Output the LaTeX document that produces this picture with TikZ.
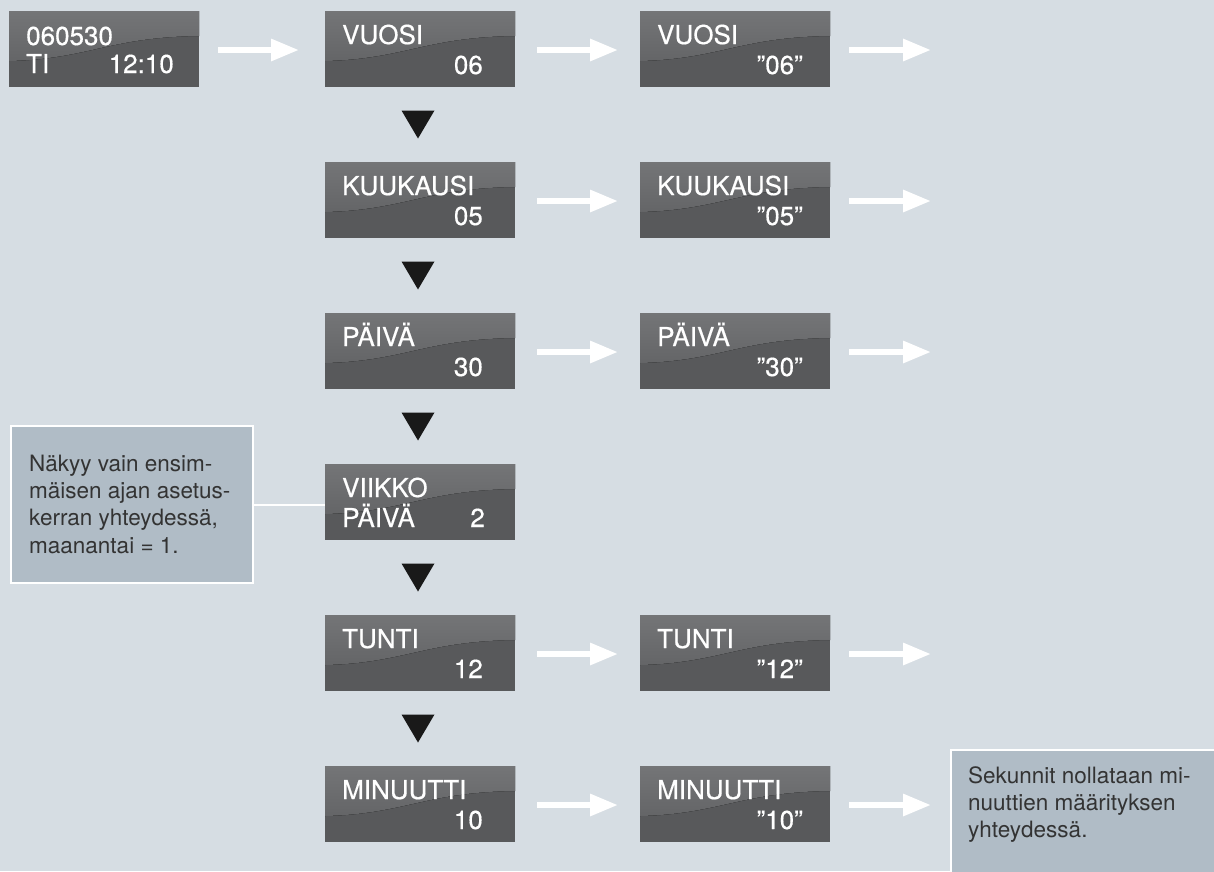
\documentclass[tikz,border=0pt]{standalone}
\usepackage{fontspec}
\setmainfont{TeX Gyre Heros}
\newfontfamily\dispfont{TeX Gyre Heros}[FakeBold=0.5]
\usetikzlibrary{arrows.meta,calc}
\definecolor{bg}{HTML}{D6DDE3}
\definecolor{dark}{HTML}{58595B}
\definecolor{lighttop}{HTML}{747577}
\definecolor{lightbot}{HTML}{646567}
\definecolor{notefill}{HTML}{B0BCC6}
\definecolor{notetext}{HTML}{333333}
\tikzset{
  dbox/.style={fill=dark, minimum width=190pt, minimum height=76pt, inner sep=0pt, outer sep=0pt},
  dtxt/.style={text=white, inner sep=0pt, font=\dispfont\fontsize{26}{30}\selectfont},
  warrow/.style={white, line width=6pt, -{Triangle[length=28pt,width=21pt]}},
  notebox/.style={fill=notefill, draw=white, line width=2pt, inner sep=0pt, anchor=north west},
  ntxt/.style={text=notetext, inner sep=0pt, anchor=base west, font=\fontsize{22.5}{27}\selectfont},
  downtri/.style={fill=black!90}
}
\newcommand\wave[1]{%
  \fill[top color=lighttop, bottom color=lightbot]
    (#1.north west) -- (#1.north east) -- ([yshift=-25pt]#1.north east)
    .. controls ([xshift=-90pt,yshift=-26pt]#1.north east) and ([xshift=80pt,yshift=-48pt]#1.north west)
    .. ([yshift=-50pt]#1.north west) -- cycle;
}
% name, x, y, top text, bottom text, right offset
\newcommand\dispbox[6]{%
  \node[dbox] (#1) at (#2,#3) {};
  \wave{#1}
  \node[dtxt, anchor=base west] (#1-a) at ([xshift=17pt,yshift=-33pt]#1.north west) {#4};
  \node[dtxt, anchor=base east] (#1-b) at ([xshift=-#6pt,yshift=-63pt]#1.north east) {#5};
}
\newcommand\downtriangle[2]{%
  \fill[downtri] ($(#1.south)!0.5!(#2.north)+(-2,0)$) ++(-16.5,-14) -- ++(33,0) -- ++(-16.5,28) -- cycle;
}
\begin{document}
\begin{tikzpicture}[x=1pt,y=-1pt]
\useasboundingbox (0,0) rectangle (1214,871);
\fill[bg] (0,0) rectangle (1214,871);

% column 1
\node[dbox] (s) at (104,49) {};
\wave{s}
\node[dtxt, anchor=base west] (s-a) at ([xshift=17pt,yshift=-34pt]s.north west) {060530};
\node[dtxt, anchor=base west] (s-c) at ([xshift=17pt,yshift=-62pt]s.north west) {TI};
\node[dtxt, anchor=base east] (s-b) at ([xshift=-25pt,yshift=-62pt]s.north east) {12:10};

% column 2
\dispbox{v1}{420}{49}{VUOSI}{06}{32}
\dispbox{v2}{420}{200}{KUUKAUSI}{05}{32}
\dispbox{v3}{420}{351}{PÄIVÄ}{30}{32}
\node[dbox] (v4) at (420,502) {};
\wave{v4}
\node[dtxt, anchor=base west] (v4-a) at ([xshift=17pt,yshift=-33pt]v4.north west) {VIIKKO};
\node[dtxt, anchor=base west] (v4-c) at ([xshift=17pt,yshift=-63pt]v4.north west) {PÄIVÄ};
\node[dtxt, anchor=base east] (v4-b) at ([xshift=-30pt,yshift=-63pt]v4.north east) {2};
\dispbox{v5}{420}{653}{TUNTI}{12}{32}
\dispbox{v6}{420}{804}{MINUUTTI}{10}{32}

% column 3
\dispbox{w1}{735}{49}{VUOSI}{”06”}{27}
\dispbox{w2}{735}{200}{KUUKAUSI}{”05”}{27}
\dispbox{w3}{735}{351}{PÄIVÄ}{”30”}{27}
\dispbox{w5}{735}{653}{TUNTI}{”12”}{27}
\dispbox{w6}{735}{804}{MINUUTTI}{”10”}{27}

% notes
\node[notebox, minimum width=242pt, minimum height=157pt] (n1) at (10,425) {};
\node[ntxt] (n1-1) at (29,471) {Näkyy vain ensim-};
\node[ntxt] (n1-2) at (29,498.3) {mäisen ajan asetus-};
\node[ntxt] (n1-3) at (29,525.6) {kerran yhteydessä,};
\node[ntxt] (n1-4) at (29,553) {maanantai = 1.};

\node[notebox, minimum width=280pt, minimum height=140pt] (n2) at (950,749) {};
\node[ntxt] (n2-1) at (968,783) {Sekunnit nollataan mi-};
\node[ntxt] (n2-2) at (968,810.3) {nuuttien määrityksen};
\node[ntxt] (n2-3) at (968,837.6) {yhteydessä.};

\draw[white, line width=2pt] (n1.east) -- (n1.east -| v4.west);

% free arrow ends
\coordinate (e1) at (931,50);
\coordinate (e2) at (931,201);
\coordinate (e3) at (931,352);
\coordinate (e5) at (931,654);

% white arrows
\draw[warrow] ([xshift=19pt,yshift=-1pt]s.east) -- ([xshift=-26pt,yshift=-1pt]v1.west);
\foreach \r in {1,2,3,5,6} {
  \draw[warrow] ([xshift=22pt,yshift=-1pt]v\r.east) -- ([xshift=-22pt,yshift=-1pt]w\r.west);
}
\foreach \r in {1,2,3,5} {
  \draw[warrow] ([xshift=19pt,yshift=-1pt]w\r.east) -- (e\r);
}
\draw[warrow] ([xshift=19pt,yshift=-1pt]w6.east) -- ([xshift=-19pt,yshift=-1pt]n2.west |- w6.east);

% black triangles
\downtriangle{v1}{v2}
\downtriangle{v2}{v3}
\downtriangle{v3}{v4}
\downtriangle{v4}{v5}
\downtriangle{v5}{v6}
\end{tikzpicture}
\end{document}
